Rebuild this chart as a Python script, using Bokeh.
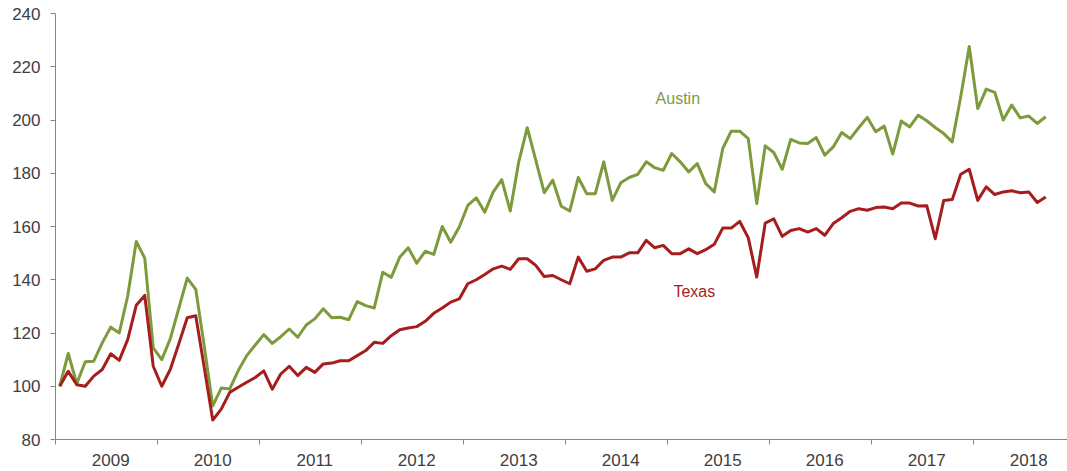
from bokeh.plotting import figure
from bokeh.models import FixedTicker, Label
from bokeh.embed import file_html
from bokeh.resources import INLINE

# Monthly index values, Jan 2009 .. Sep 2018 (Jan 2009 = 100)
years = ["2009", "2010", "2011", "2012", "2013", "2014", "2015", "2016", "2017", "2018"]

austin = [
    100, 112.3, 101, 109.2, 109.4, 116.3, 122.2, 120, 134, 154.4, 148.1, 114.4,
    110, 117.8, 129.2, 140.6, 136.4, 115, 92.6, 99.3, 99, 105.9, 111.5, 115.5,
    119.4, 116.1, 118.6, 121.5, 118.4, 123, 125.3, 129.1, 125.7, 125.9, 125, 131.8,
    130.3, 129.4, 142.8, 140.9, 148.5, 152, 146.2, 150.7, 149.5, 160, 154.1, 159.8,
    167.9, 170.8, 165.4, 173, 177.6, 165.8, 184.3, 197.1, 184.9, 172.7, 177.4, 167.6,
    165.8, 178.4, 172.3, 172.3, 184.3, 169.8, 176.4, 178.4, 179.6, 184.3, 182.1, 181.1,
    187.4, 184.3, 180.5, 183.6, 176.1, 173, 189.3, 195.8, 195.8, 193, 168.6, 190.3,
    187.8, 181.5, 192.7, 191.4, 191.2, 193.4, 186.8, 189.9, 195.3, 193, 197.1, 201,
    195.6, 197.7, 187.2, 199.6, 197.4, 201.8, 199.7, 197.2, 194.9, 191.8, 208.7, 227.6,
    204.3, 211.6, 210.4, 200, 205.6, 200.8, 201.5, 198.7, 201.2,
]

texas = [
    100, 105.6, 100.6, 100, 103.8, 106.3, 112.2, 109.7, 117.6, 130.4, 134.1, 107.5,
    100, 106.3, 115.9, 125.7, 126.5, 107, 87.3, 91.4, 97.7, 99.6, 101.5, 103.3,
    105.8, 98.9, 104.6, 107.5, 104, 107.1, 105.2, 108.4, 108.7, 109.6, 109.6, 111.5,
    113.4, 116.5, 116.1, 119, 121.2, 121.9, 122.4, 124.4, 127.4, 129.4, 131.6, 132.8,
    138.5, 140, 142, 144.1, 145.1, 143.9, 147.9, 147.9, 145.4, 141.2, 141.6, 140,
    138.5, 148.5, 143.2, 144.1, 147.3, 148.5, 148.5, 150.1, 150.1, 154.8, 152, 152.9,
    149.8, 149.8, 151.6, 149.8, 151.3, 153.3, 159.4, 159.4, 161.9, 155.8, 141, 161.3,
    162.9, 156.3, 158.5, 159.2, 157.9, 159.2, 156.7, 161.1, 163.3, 165.7, 166.7, 166.1,
    167.1, 167.3, 166.7, 168.8, 168.8, 167.7, 167.8, 155.4, 169.8, 170.1, 179.6, 181.5,
    169.8, 174.9, 172, 173, 173.4, 172.7, 173, 169, 171.1,
]

y_ticks = [80, 100, 120, 140, 160, 180, 200, 220, 240]

GREEN = "#7D9B3C"
RED = "#A51D1D"
AXIS = "#868686"
TXT = "#404040"
FONT = "Liberation Sans"

months = list(range(len(austin)))

p = figure(width=1067, height=471, x_range=(-0.5, 118.56), y_range=(80, 240),
           output_backend="svg", toolbar_location=None,
           min_border_left=55, min_border_right=0, min_border_top=13, min_border_bottom=32)
p.outline_line_color = None
p.grid.visible = False
p.background_fill_color = "white"
p.border_fill_color = "white"

p.line(months, austin, line_color=GREEN, line_width=3, line_join="round")
p.line(months, texas, line_color=RED, line_width=3, line_join="round")

# y axis
ya = p.yaxis[0]
ya.ticker = FixedTicker(ticks=y_ticks)
ya.major_tick_out = 5
ya.major_tick_in = 0
ya.minor_tick_out = 0
ya.minor_tick_in = 0
ya.axis_line_color = AXIS
ya.major_tick_line_color = AXIS
ya.major_label_text_font = FONT
ya.major_label_text_font_size = "17px"
ya.major_label_text_color = TXT
ya.major_label_standoff = 10

# x axis: year labels centred in each year, tick marks at year boundaries
xa = p.xaxis[0]
label_pos = [6 + 12 * k for k in range(len(years))]
bounds = [-0.5 + 12 * k for k in range(len(years) + 1)]
xa.ticker = FixedTicker(ticks=label_pos, minor_ticks=bounds)
xa.major_label_overrides = {pos: yr for pos, yr in zip(label_pos, years)}
xa.major_tick_out = 0
xa.major_tick_in = 0
xa.minor_tick_out = 5
xa.minor_tick_in = 0
xa.axis_line_color = AXIS
xa.minor_tick_line_color = AXIS
xa.major_label_text_font = FONT
xa.major_label_text_font_size = "17px"
xa.major_label_text_color = TXT
xa.major_label_standoff = 9

p.add_layout(Label(x=70.1, y=207.9, text="Austin", text_color=GREEN,
                   text_font=FONT, text_font_size="16px", text_baseline="alphabetic"))
p.add_layout(Label(x=72.2, y=135.4, text="Texas", text_color=RED,
                   text_font=FONT, text_font_size="16px", text_baseline="alphabetic"))

open("out.html", "w").write(file_html(p, INLINE))
